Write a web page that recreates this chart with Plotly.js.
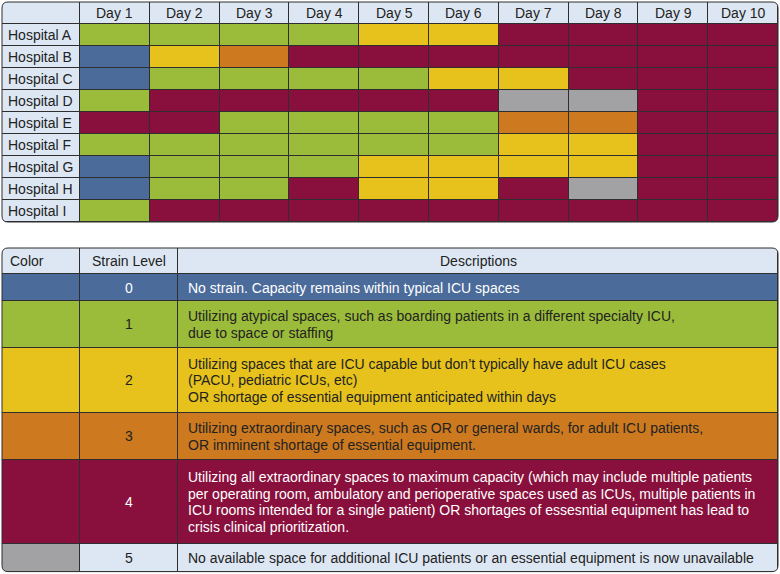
<!DOCTYPE html>
<html>
<head>
<meta charset="utf-8">
<script src="https://cdn.plot.ly/plotly-3.0.1.min.js"></script>
<style>
  body { margin: 0; background: #fff; }
  #chart { width: 780px; height: 574px; }
</style>
</head>
<body>
<div id="chart"></div>
<script>
// ICU strain by hospital and day

var days = ['Day 1', 'Day 2', 'Day 3', 'Day 4', 'Day 5', 'Day 6', 'Day 7', 'Day 8', 'Day 9', 'Day 10'];
var hospitals = ['Hospital A', 'Hospital B', 'Hospital C', 'Hospital D', 'Hospital E',
                 'Hospital F', 'Hospital G', 'Hospital H', 'Hospital I'];

// strain level per hospital, one value per day
var levelsA = [1, 1, 1, 1, 2, 2, 4, 4, 4, 4];
var levelsB = [0, 2, 3, 4, 4, 4, 4, 4, 4, 4];
var levelsC = [0, 1, 1, 1, 1, 2, 2, 4, 4, 4];
var levelsD = [1, 4, 4, 4, 4, 4, 5, 5, 4, 4];
var levelsE = [4, 4, 1, 1, 1, 1, 3, 3, 4, 4];
var levelsF = [1, 1, 1, 1, 1, 1, 2, 2, 4, 4];
var levelsG = [0, 1, 1, 1, 2, 2, 2, 2, 4, 4];
var levelsH = [0, 1, 1, 4, 2, 2, 4, 5, 4, 4];
var levelsI = [1, 4, 4, 4, 4, 4, 4, 4, 4, 4];
var levels = [levelsA, levelsB, levelsC, levelsD, levelsE, levelsF, levelsG, levelsH, levelsI];

// legend table
var legendHeaders = ['Color', 'Strain Level', 'Descriptions'];
var strainLevels = [0, 1, 2, 3, 4, 5];
var levelColors = ['#4b6b9b', '#9bbc3a', '#e7c21c', '#cc791f', '#89103c', '#a2a2a4'];
var descriptions = [
    ['No strain. Capacity remains within typical ICU spaces'],
    ['Utilizing atypical spaces, such as boarding patients in a different specialty ICU,',
     'due to space or staffing'],
    ['Utilizing spaces that are ICU capable but don\u2019t typically have adult ICU cases',
     '(PACU, pediatric ICUs, etc)',
     'OR shortage of essential equipment anticipated within days'],
    ['Utilizing extraordinary spaces, such as OR or general wards, for adult ICU patients,',
     'OR imminent shortage of essential equipment.'],
    ['Utilizing all extraordinary spaces to maximum capacity (which may include multiple patients',
     'per operating room, ambulatory and perioperative spaces used as ICUs, multiple patients in',
     'ICU rooms intended for a single patient) OR shortages of essesntial equipment has lead to',
     'crisis clinical prioritization.'],
    ['No available space for additional ICU patients or an essential equipment is now unavailable']
];

/* ---------------- layout constants ---------------- */
var W = 780, H = 574;
var headBlue = '#dde7f3';
var lineColor = '#2e2e2e';
var textDark = '#222';
var fontFam = 'Liberation Sans, Arial, Helvetica, sans-serif';
var fontSize = 14;
var radius = 6;

// top grid (pixels)
var gridLeft = 2, gridRight = 778, gridTop = 2, gridBottom = 222, labelColW = 78;
// legend (pixels)
var legTop = 248, legHeadH = 26, legColW = [78, 98, 600];
var rowPad = 8, rowPerLine = 19.2, lineStep = 16.7;

// discrete colour scales, levels 0..5
function stepScale(colors) {
    var s = [];
    colors.forEach(function (c, i) {
        s.push([Math.max(0, (i - 0.5) / 5), c]);
        s.push([Math.min(1, (i + 0.5) / 5), c]);
    });
    return s;
}
var swatchScale = stepScale(levelColors);
var rowScale = stepScale(levelColors.slice(0, 5).concat([headBlue]));
var flatScale = [[0, headBlue], [1, headBlue]];

function range(n) { var a = []; for (var i = 0; i < n; i++) a.push(i); return a; }

/* ---------------- top grid ---------------- */
var dayW = (gridRight - gridLeft - labelColW) / days.length;
var lblUnits = labelColW / dayW;
var dayEdges = range(days.length + 1);
var rowEdges = range(hospitals.length + 1);

var base = {type: 'heatmap', xgap: 1, ygap: 1, showscale: false, hoverinfo: 'skip', zmin: 0, zmax: 5};

var gridCells = Object.assign({}, base, {
    x: dayEdges, y: rowEdges, z: levels, colorscale: swatchScale
});
var gridLabels = Object.assign({}, base, {
    x: [-lblUnits, 0], y: rowEdges, z: hospitals.map(function () { return [0]; }), colorscale: flatScale
});
var gridHeader = Object.assign({}, base, {
    x: [-lblUnits].concat(dayEdges), y: [-1, 0],
    z: [[0].concat(days.map(function () { return 0; }))], colorscale: flatScale
});

/* ---------------- legend ---------------- */
var legRowH = descriptions.map(function (d) { return rowPad + rowPerLine * d.length; });
var legRowEdges = [legHeadH];
legRowH.forEach(function (h, i) { legRowEdges.push(legRowEdges[i] + h); });
var legTotal = legRowEdges[legRowEdges.length - 1];
var legColEdges = [0];
legColW.forEach(function (w, i) { legColEdges.push(legColEdges[i] + w); });

var legSwatch = Object.assign({}, base, {
    xaxis: 'x2', yaxis: 'y2',
    x: legColEdges.slice(0, 2), y: legRowEdges,
    z: strainLevels.map(function (l) { return [l]; }), colorscale: swatchScale
});
var legRows = Object.assign({}, base, {
    xaxis: 'x2', yaxis: 'y2',
    x: legColEdges.slice(1), y: legRowEdges,
    z: strainLevels.map(function (l) { return [l, l]; }), colorscale: rowScale
});
var legHeader = Object.assign({}, base, {
    xaxis: 'x2', yaxis: 'y2',
    x: legColEdges, y: [0, legHeadH],
    z: [legendHeaders.map(function () { return 0; })], colorscale: flatScale
});

/* ---------------- text ---------------- */
var annotations = [];
function txt(o) {
    annotations.push(Object.assign({
        showarrow: false, font: {family: fontFam, size: fontSize, color: textDark},
        xanchor: 'center', yanchor: 'middle'
    }, o));
}

days.forEach(function (d, j) { txt({text: d, x: j + 0.5, y: -0.5, xref: 'x', yref: 'y'}); });
hospitals.forEach(function (h, i) {
    txt({text: h, x: -lblUnits + 4 / dayW, y: i + 0.5, xref: 'x', yref: 'y', xanchor: 'left'});
});

txt({text: legendHeaders[0], x: 6, y: legHeadH / 2, xref: 'x2', yref: 'y2', xanchor: 'left'});
txt({text: legendHeaders[1], x: (legColEdges[1] + legColEdges[2]) / 2, y: legHeadH / 2, xref: 'x2', yref: 'y2'});
txt({text: legendHeaders[2], x: (legColEdges[2] + legColEdges[3]) / 2, y: legHeadH / 2, xref: 'x2', yref: 'y2'});

strainLevels.forEach(function (l, i) {
    var col = (l === 0 || l === 4) ? '#fff' : textDark;
    var mid = (legRowEdges[i] + legRowEdges[i + 1]) / 2;
    txt({text: String(l), x: (legColEdges[1] + legColEdges[2]) / 2, y: mid, xref: 'x2', yref: 'y2',
         font: {family: fontFam, size: fontSize, color: col}});
    var lines = descriptions[i];
    lines.forEach(function (s, k) {
        txt({text: s, x: legColEdges[2] + 8, y: mid + (k - (lines.length - 1) / 2) * lineStep,
             xref: 'x2', yref: 'y2', xanchor: 'left', font: {family: fontFam, size: fontSize, color: col}});
    });
});

/* ---------------- rounded outer frames ---------------- */
function px(x) { return x / W; }
function py(y) { return 1 - y / H; }
function frame(x0, y0, x1, y1) {
    var r = radius;
    var shapes = [];
    // white corner slivers outside the rounded border
    [[x0, y0, 1, 1], [x1, y0, -1, 1], [x1, y1, -1, -1], [x0, y1, 1, -1]].forEach(function (c) {
        var cx = c[0], cy = c[1], sx = c[2], sy = c[3];
        shapes.push({
            type: 'path', xref: 'paper', yref: 'paper', layer: 'above',
            path: 'M' + px(cx) + ',' + py(cy + sy * r) + ' L' + px(cx - sx) + ',' + py(cy + sy * r) +
                  ' L' + px(cx - sx) + ',' + py(cy - sy) + ' L' + px(cx + sx * r) + ',' + py(cy - sy) +
                  ' L' + px(cx + sx * r) + ',' + py(cy) + ' Q' + px(cx) + ',' + py(cy) + ' ' + px(cx) + ',' + py(cy + sy * r) + ' Z',
            fillcolor: '#fff', line: {width: 0}
        });
    });
    shapes.push({
        type: 'path', xref: 'paper', yref: 'paper', layer: 'above',
        path: 'M' + px(x0 + r) + ',' + py(y0) + ' L' + px(x1 - r) + ',' + py(y0) +
              ' Q' + px(x1) + ',' + py(y0) + ' ' + px(x1) + ',' + py(y0 + r) +
              ' L' + px(x1) + ',' + py(y1 - r) +
              ' Q' + px(x1) + ',' + py(y1) + ' ' + px(x1 - r) + ',' + py(y1) +
              ' L' + px(x0 + r) + ',' + py(y1) +
              ' Q' + px(x0) + ',' + py(y1) + ' ' + px(x0) + ',' + py(y1 - r) +
              ' L' + px(x0) + ',' + py(y0 + r) +
              ' Q' + px(x0) + ',' + py(y0) + ' ' + px(x0 + r) + ',' + py(y0) + ' Z',
        line: {color: lineColor, width: 1}
    });
    return shapes;
}

/* ---------------- layout ---------------- */
var noAxis = {visible: false, fixedrange: true, type: 'linear'};
var layout = {
    width: W,
    height: H,
    margin: {l: 0, r: 0, t: 0, b: 0},
    paper_bgcolor: '#fff',
    plot_bgcolor: lineColor,
    font: {family: fontFam},
    xaxis: Object.assign({}, noAxis, {domain: [gridLeft / W, gridRight / W], range: [-lblUnits, days.length]}),
    yaxis: Object.assign({}, noAxis, {domain: [1 - gridBottom / H, 1 - gridTop / H], range: [hospitals.length, -1]}),
    xaxis2: Object.assign({}, noAxis, {anchor: 'y2', domain: [gridLeft / W, gridRight / W], range: [0, legColEdges[3]]}),
    yaxis2: Object.assign({}, noAxis, {anchor: 'x2', domain: [1 - (legTop + legTotal) / H, 1 - legTop / H], range: [legTotal, 0]}),
    annotations: annotations,
    shapes: frame(gridLeft, gridTop, gridRight, gridBottom)
        .concat(frame(gridLeft, legTop, gridRight, legTop + legTotal))
};

Plotly.newPlot('chart', [gridHeader, gridLabels, gridCells, legHeader, legSwatch, legRows], layout,
    {displayModeBar: false, staticPlot: true});
</script>
</body>
</html>
